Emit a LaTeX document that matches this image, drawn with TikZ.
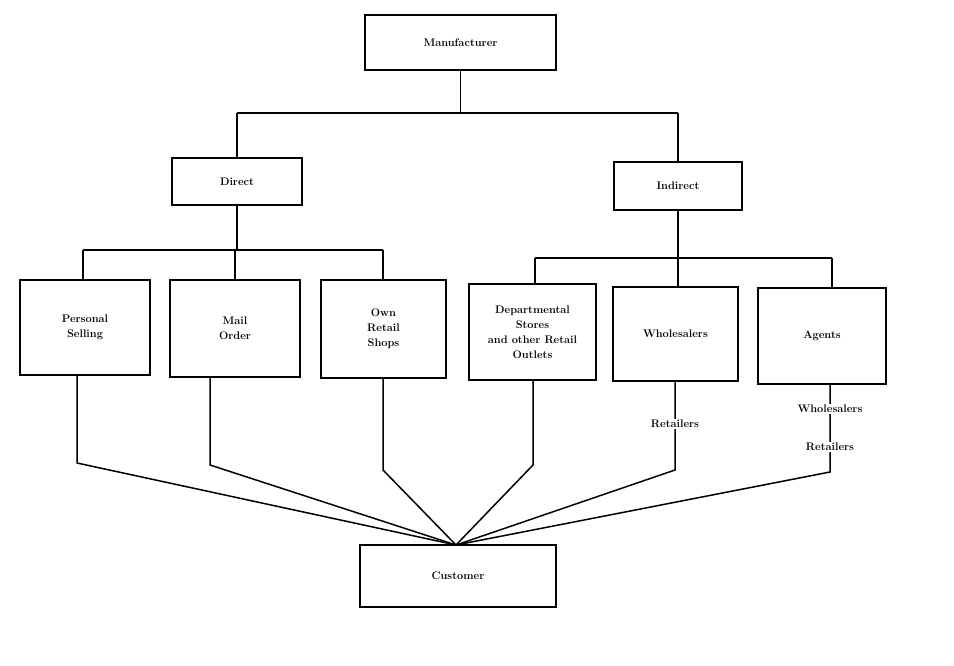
\documentclass[tikz,border=0pt]{standalone}
\begin{document}
\begin{tikzpicture}[x=1pt,y=-1pt,
  box/.style={draw,line width=1.5pt,align=center,font=\bfseries\fontsize{11}{15}\selectfont,inner sep=0pt},
  lab/.style={fill=white,font=\bfseries\fontsize{11}{13}\selectfont,inner sep=1pt},
  ln/.style={line width=1.5pt}]
\useasboundingbox (0,0) rectangle (954,665);
\node[box,minimum width=191pt,minimum height=55pt] (man) at (460.5,42.5) {Manufacturer};
\node[box,minimum width=130pt,minimum height=47pt] (dir) at (237,181.5) {Direct};
\node[box,minimum width=128pt,minimum height=48pt] (ind) at (678,186) {Indirect};
\node[box,minimum width=130pt,minimum height=95pt] (ps) at (85,327.5) {Personal\\Selling};
\node[box,minimum width=130pt,minimum height=97pt] (mo) at (235,328.5) {Mail\\Order};
\node[box,minimum width=125pt,minimum height=98pt] (ow) at (383.5,329) {Own\\Retail\\Shops};
\node[box,minimum width=127pt,minimum height=96pt] (de) at (532.5,332) {Departmental\\Stores\\and other Retail\\Outlets};
\node[box,minimum width=125pt,minimum height=94pt] (wh) at (675.5,334) {Wholesalers};
\node[box,minimum width=128pt,minimum height=96pt] (ag) at (822,336) {Agents};
\node[box,minimum width=196pt,minimum height=62pt] (cu) at (458,576) {Customer};
\coordinate (c) at (456,545);
\draw[ln] (man.south) -- (460.5,113);
\draw[ln] (237,113) -- (678,113);
\draw[ln] (237,113) -- (dir.north);
\draw[ln] (678,113) -- (ind.north);
\draw[ln] (dir.south) -- (237,250);
\draw[ln] (83,250) -- (383,250);
\draw[ln] (83,250) -- (83,280);
\draw[ln] (235,250) -- (235,280);
\draw[ln] (383,250) -- (383,280);
\draw[ln] (ind.south) -- (678,258);
\draw[ln] (535,258) -- (832,258);
\draw[ln] (535,258) -- (535,284);
\draw[ln] (678,258) -- (678,287);
\draw[ln] (832,258) -- (832,288);
\draw[ln] (77,375) -- (77,463) -- (c);
\draw[ln] (210,377) -- (210,465) -- (c);
\draw[ln] (383,378) -- (383,470) -- (c);
\draw[ln] (533,380) -- (533,465) -- (c);
\draw[ln] (675,381) -- (675,470) -- (c);
\draw[ln] (830,384) -- (830,472) -- (c);
\node[lab] (r1) at (675,424) {Retailers};
\node[lab] (w2) at (830,409) {Wholesalers};
\node[lab] (r2) at (830,447) {Retailers};
\end{tikzpicture}
\end{document}
